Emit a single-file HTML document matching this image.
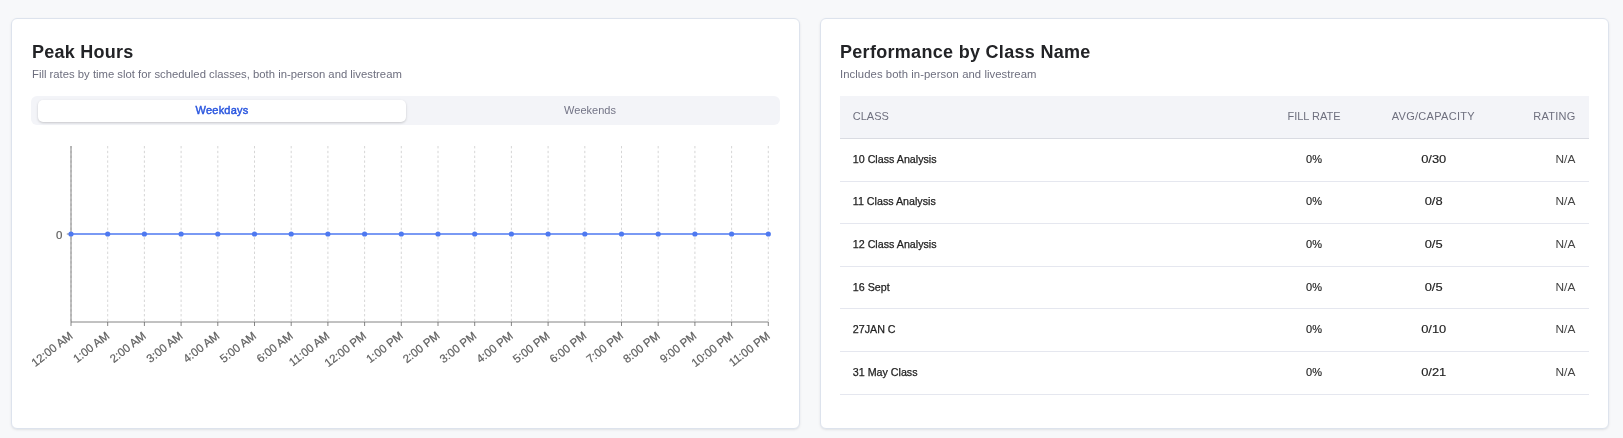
<!DOCTYPE html>
<html><head><meta charset="utf-8"><style>
*{margin:0;padding:0;box-sizing:border-box}
html,body{width:1623px;height:438px;overflow:hidden;background:#f7f8fa;font-family:"Liberation Sans",Arial,sans-serif}
#root{position:absolute;left:0;top:0;width:1623px;height:438px;will-change:transform}
.card{position:absolute;top:18px;width:789px;height:411px;background:#fff;border:1px solid #dde3ed;border-radius:6px;box-shadow:0 1px 3px rgba(16,24,40,0.07),0 1px 2px rgba(16,24,40,0.04)}
.title{position:absolute;font-weight:bold;font-size:18px;color:#222326;white-space:nowrap;line-height:1;letter-spacing:0.25px}
.sub{position:absolute;font-size:11.3px;color:#6d6e7e;white-space:nowrap;line-height:1}
.track{position:absolute;left:31px;top:96px;width:749px;height:29px;background:#f3f4f8;border-radius:6px}
.pill{position:absolute;left:38px;top:100px;width:368px;height:22px;background:#fff;border-radius:5px;box-shadow:0 1px 3px rgba(0,0,0,0.12),0 1px 2px rgba(0,0,0,0.07)}
.seg{position:absolute;top:99px;height:23px;line-height:23px;text-align:center;font-size:11px;width:368px}
.s1{left:38px;color:#2a56df;-webkit-text-stroke:0.45px #2a56df;letter-spacing:0.2px}
.s2{left:406px;color:#737486}
.thead{position:absolute;left:840px;top:96px;width:749px;height:43px;background:#f3f4f8;border-bottom:1px solid #d9dbe2}
.th{position:absolute;top:0;line-height:41px;font-size:11px;color:#6e6f7e;white-space:nowrap}
.h1{left:12.8px}
.h2{left:474px;width:0;display:flex;justify-content:center}
.h3{letter-spacing:0.3px;left:593.3px;width:0;display:flex;justify-content:center}
.h4{right:13.3px;letter-spacing:0.3px}
.row{position:absolute;left:840px;width:749px;height:42.6px;font-size:11px;color:#222}
.sep{position:absolute;left:840px;width:749px;height:1px;background:#e5e7ef}
.row span{position:absolute;top:0;line-height:42px;white-space:nowrap}
.c1{left:12.8px;font-size:10.7px;-webkit-text-stroke:0.25px #222}
.c2{-webkit-text-stroke:0.15px #222;left:474px;width:0;display:flex;justify-content:center}
.c3{-webkit-text-stroke:0.15px #222;left:593.3px;width:0;display:flex;justify-content:center}
.c3 b{font-weight:normal;display:inline-block;transform:scaleX(1.17)}
.c4{right:13.6px;color:#444;transform:scaleX(1.08);transform-origin:100% 50%}
svg{position:absolute;left:0;top:0}

</style></head><body><div id="root">
<div class="card" style="left:11px"></div>
<div class="card" style="left:820px"></div>
<div class="title" style="left:32px;top:43px">Peak Hours</div>
<div class="sub" style="left:32px;top:69px">Fill rates by time slot for scheduled classes, both in-person and livestream</div>
<div class="track"></div>
<div class="pill"></div>
<div class="seg s1">Weekdays</div>
<div class="seg s2">Weekends</div>
<svg width="1623" height="438" font-family="Liberation Sans, Arial, Helvetica, sans-serif">
<line x1="71.00" y1="146.0" x2="71.00" y2="322.0" stroke="#ccc" stroke-width="0.8" stroke-dasharray="2.4 2.4"/>
<line x1="107.70" y1="146.0" x2="107.70" y2="322.0" stroke="#ccc" stroke-width="0.8" stroke-dasharray="2.4 2.4"/>
<line x1="144.40" y1="146.0" x2="144.40" y2="322.0" stroke="#ccc" stroke-width="0.8" stroke-dasharray="2.4 2.4"/>
<line x1="181.10" y1="146.0" x2="181.10" y2="322.0" stroke="#ccc" stroke-width="0.8" stroke-dasharray="2.4 2.4"/>
<line x1="217.80" y1="146.0" x2="217.80" y2="322.0" stroke="#ccc" stroke-width="0.8" stroke-dasharray="2.4 2.4"/>
<line x1="254.50" y1="146.0" x2="254.50" y2="322.0" stroke="#ccc" stroke-width="0.8" stroke-dasharray="2.4 2.4"/>
<line x1="291.20" y1="146.0" x2="291.20" y2="322.0" stroke="#ccc" stroke-width="0.8" stroke-dasharray="2.4 2.4"/>
<line x1="327.90" y1="146.0" x2="327.90" y2="322.0" stroke="#ccc" stroke-width="0.8" stroke-dasharray="2.4 2.4"/>
<line x1="364.60" y1="146.0" x2="364.60" y2="322.0" stroke="#ccc" stroke-width="0.8" stroke-dasharray="2.4 2.4"/>
<line x1="401.30" y1="146.0" x2="401.30" y2="322.0" stroke="#ccc" stroke-width="0.8" stroke-dasharray="2.4 2.4"/>
<line x1="438.00" y1="146.0" x2="438.00" y2="322.0" stroke="#ccc" stroke-width="0.8" stroke-dasharray="2.4 2.4"/>
<line x1="474.70" y1="146.0" x2="474.70" y2="322.0" stroke="#ccc" stroke-width="0.8" stroke-dasharray="2.4 2.4"/>
<line x1="511.40" y1="146.0" x2="511.40" y2="322.0" stroke="#ccc" stroke-width="0.8" stroke-dasharray="2.4 2.4"/>
<line x1="548.10" y1="146.0" x2="548.10" y2="322.0" stroke="#ccc" stroke-width="0.8" stroke-dasharray="2.4 2.4"/>
<line x1="584.80" y1="146.0" x2="584.80" y2="322.0" stroke="#ccc" stroke-width="0.8" stroke-dasharray="2.4 2.4"/>
<line x1="621.50" y1="146.0" x2="621.50" y2="322.0" stroke="#ccc" stroke-width="0.8" stroke-dasharray="2.4 2.4"/>
<line x1="658.20" y1="146.0" x2="658.20" y2="322.0" stroke="#ccc" stroke-width="0.8" stroke-dasharray="2.4 2.4"/>
<line x1="694.90" y1="146.0" x2="694.90" y2="322.0" stroke="#ccc" stroke-width="0.8" stroke-dasharray="2.4 2.4"/>
<line x1="731.60" y1="146.0" x2="731.60" y2="322.0" stroke="#ccc" stroke-width="0.8" stroke-dasharray="2.4 2.4"/>
<line x1="768.30" y1="146.0" x2="768.30" y2="322.0" stroke="#ccc" stroke-width="0.8" stroke-dasharray="2.4 2.4"/>
<line x1="71.0" y1="146.0" x2="71.0" y2="322.0" stroke="#666" stroke-width="0.8"/>
<line x1="71.0" y1="322.0" x2="768.3" y2="322.0" stroke="#666" stroke-width="0.8"/>
<line x1="66.8" y1="234.0" x2="71.0" y2="234.0" stroke="#666" stroke-width="0.8"/>
<text x="62.3" y="238.9" text-anchor="end" font-size="11.5" fill="#606060" stroke="#606060" stroke-width="0.2">0</text>
<line x1="71.00" y1="322.0" x2="71.00" y2="326.0" stroke="#666" stroke-width="0.8"/>
<text transform="rotate(-38 68.50 330.8)" x="68.50" y="330.8" dy="0.71em" text-anchor="end" font-size="11.5" fill="#606060" stroke="#606060" stroke-width="0.2">12:00 AM</text>
<line x1="107.70" y1="322.0" x2="107.70" y2="326.0" stroke="#666" stroke-width="0.8"/>
<text transform="rotate(-38 105.20 330.8)" x="105.20" y="330.8" dy="0.71em" text-anchor="end" font-size="11.5" fill="#606060" stroke="#606060" stroke-width="0.2">1:00 AM</text>
<line x1="144.40" y1="322.0" x2="144.40" y2="326.0" stroke="#666" stroke-width="0.8"/>
<text transform="rotate(-38 141.90 330.8)" x="141.90" y="330.8" dy="0.71em" text-anchor="end" font-size="11.5" fill="#606060" stroke="#606060" stroke-width="0.2">2:00 AM</text>
<line x1="181.10" y1="322.0" x2="181.10" y2="326.0" stroke="#666" stroke-width="0.8"/>
<text transform="rotate(-38 178.60 330.8)" x="178.60" y="330.8" dy="0.71em" text-anchor="end" font-size="11.5" fill="#606060" stroke="#606060" stroke-width="0.2">3:00 AM</text>
<line x1="217.80" y1="322.0" x2="217.80" y2="326.0" stroke="#666" stroke-width="0.8"/>
<text transform="rotate(-38 215.30 330.8)" x="215.30" y="330.8" dy="0.71em" text-anchor="end" font-size="11.5" fill="#606060" stroke="#606060" stroke-width="0.2">4:00 AM</text>
<line x1="254.50" y1="322.0" x2="254.50" y2="326.0" stroke="#666" stroke-width="0.8"/>
<text transform="rotate(-38 252.00 330.8)" x="252.00" y="330.8" dy="0.71em" text-anchor="end" font-size="11.5" fill="#606060" stroke="#606060" stroke-width="0.2">5:00 AM</text>
<line x1="291.20" y1="322.0" x2="291.20" y2="326.0" stroke="#666" stroke-width="0.8"/>
<text transform="rotate(-38 288.70 330.8)" x="288.70" y="330.8" dy="0.71em" text-anchor="end" font-size="11.5" fill="#606060" stroke="#606060" stroke-width="0.2">6:00 AM</text>
<line x1="327.90" y1="322.0" x2="327.90" y2="326.0" stroke="#666" stroke-width="0.8"/>
<text transform="rotate(-38 325.40 330.8)" x="325.40" y="330.8" dy="0.71em" text-anchor="end" font-size="11.5" fill="#606060" stroke="#606060" stroke-width="0.2">11:00 AM</text>
<line x1="364.60" y1="322.0" x2="364.60" y2="326.0" stroke="#666" stroke-width="0.8"/>
<text transform="rotate(-38 362.10 330.8)" x="362.10" y="330.8" dy="0.71em" text-anchor="end" font-size="11.5" fill="#606060" stroke="#606060" stroke-width="0.2">12:00 PM</text>
<line x1="401.30" y1="322.0" x2="401.30" y2="326.0" stroke="#666" stroke-width="0.8"/>
<text transform="rotate(-38 398.80 330.8)" x="398.80" y="330.8" dy="0.71em" text-anchor="end" font-size="11.5" fill="#606060" stroke="#606060" stroke-width="0.2">1:00 PM</text>
<line x1="438.00" y1="322.0" x2="438.00" y2="326.0" stroke="#666" stroke-width="0.8"/>
<text transform="rotate(-38 435.50 330.8)" x="435.50" y="330.8" dy="0.71em" text-anchor="end" font-size="11.5" fill="#606060" stroke="#606060" stroke-width="0.2">2:00 PM</text>
<line x1="474.70" y1="322.0" x2="474.70" y2="326.0" stroke="#666" stroke-width="0.8"/>
<text transform="rotate(-38 472.20 330.8)" x="472.20" y="330.8" dy="0.71em" text-anchor="end" font-size="11.5" fill="#606060" stroke="#606060" stroke-width="0.2">3:00 PM</text>
<line x1="511.40" y1="322.0" x2="511.40" y2="326.0" stroke="#666" stroke-width="0.8"/>
<text transform="rotate(-38 508.90 330.8)" x="508.90" y="330.8" dy="0.71em" text-anchor="end" font-size="11.5" fill="#606060" stroke="#606060" stroke-width="0.2">4:00 PM</text>
<line x1="548.10" y1="322.0" x2="548.10" y2="326.0" stroke="#666" stroke-width="0.8"/>
<text transform="rotate(-38 545.60 330.8)" x="545.60" y="330.8" dy="0.71em" text-anchor="end" font-size="11.5" fill="#606060" stroke="#606060" stroke-width="0.2">5:00 PM</text>
<line x1="584.80" y1="322.0" x2="584.80" y2="326.0" stroke="#666" stroke-width="0.8"/>
<text transform="rotate(-38 582.30 330.8)" x="582.30" y="330.8" dy="0.71em" text-anchor="end" font-size="11.5" fill="#606060" stroke="#606060" stroke-width="0.2">6:00 PM</text>
<line x1="621.50" y1="322.0" x2="621.50" y2="326.0" stroke="#666" stroke-width="0.8"/>
<text transform="rotate(-38 619.00 330.8)" x="619.00" y="330.8" dy="0.71em" text-anchor="end" font-size="11.5" fill="#606060" stroke="#606060" stroke-width="0.2">7:00 PM</text>
<line x1="658.20" y1="322.0" x2="658.20" y2="326.0" stroke="#666" stroke-width="0.8"/>
<text transform="rotate(-38 655.70 330.8)" x="655.70" y="330.8" dy="0.71em" text-anchor="end" font-size="11.5" fill="#606060" stroke="#606060" stroke-width="0.2">8:00 PM</text>
<line x1="694.90" y1="322.0" x2="694.90" y2="326.0" stroke="#666" stroke-width="0.8"/>
<text transform="rotate(-38 692.40 330.8)" x="692.40" y="330.8" dy="0.71em" text-anchor="end" font-size="11.5" fill="#606060" stroke="#606060" stroke-width="0.2">9:00 PM</text>
<line x1="731.60" y1="322.0" x2="731.60" y2="326.0" stroke="#666" stroke-width="0.8"/>
<text transform="rotate(-38 729.10 330.8)" x="729.10" y="330.8" dy="0.71em" text-anchor="end" font-size="11.5" fill="#606060" stroke="#606060" stroke-width="0.2">10:00 PM</text>
<line x1="768.30" y1="322.0" x2="768.30" y2="326.0" stroke="#666" stroke-width="0.8"/>
<text transform="rotate(-38 765.80 330.8)" x="765.80" y="330.8" dy="0.71em" text-anchor="end" font-size="11.5" fill="#606060" stroke="#606060" stroke-width="0.2">11:00 PM</text>
<line x1="71.0" y1="234.0" x2="768.3" y2="234.0" stroke="#4e79f0" stroke-width="1.6"/>
<circle cx="71.00" cy="234.0" r="2.6" fill="#4e79f0"/>
<circle cx="107.70" cy="234.0" r="2.6" fill="#4e79f0"/>
<circle cx="144.40" cy="234.0" r="2.6" fill="#4e79f0"/>
<circle cx="181.10" cy="234.0" r="2.6" fill="#4e79f0"/>
<circle cx="217.80" cy="234.0" r="2.6" fill="#4e79f0"/>
<circle cx="254.50" cy="234.0" r="2.6" fill="#4e79f0"/>
<circle cx="291.20" cy="234.0" r="2.6" fill="#4e79f0"/>
<circle cx="327.90" cy="234.0" r="2.6" fill="#4e79f0"/>
<circle cx="364.60" cy="234.0" r="2.6" fill="#4e79f0"/>
<circle cx="401.30" cy="234.0" r="2.6" fill="#4e79f0"/>
<circle cx="438.00" cy="234.0" r="2.6" fill="#4e79f0"/>
<circle cx="474.70" cy="234.0" r="2.6" fill="#4e79f0"/>
<circle cx="511.40" cy="234.0" r="2.6" fill="#4e79f0"/>
<circle cx="548.10" cy="234.0" r="2.6" fill="#4e79f0"/>
<circle cx="584.80" cy="234.0" r="2.6" fill="#4e79f0"/>
<circle cx="621.50" cy="234.0" r="2.6" fill="#4e79f0"/>
<circle cx="658.20" cy="234.0" r="2.6" fill="#4e79f0"/>
<circle cx="694.90" cy="234.0" r="2.6" fill="#4e79f0"/>
<circle cx="731.60" cy="234.0" r="2.6" fill="#4e79f0"/>
<circle cx="768.30" cy="234.0" r="2.6" fill="#4e79f0"/>
</svg>
<div class="title" style="left:840px;top:43px;letter-spacing:0.3px">Performance by Class Name</div>
<div class="sub" style="left:840px;top:69px;letter-spacing:0.065px">Includes both in-person and livestream</div>
<div class="thead">
<span class="th h1">CLASS</span>
<span class="th h2">FILL RATE</span>
<span class="th h3">AVG/CAPACITY</span>
<span class="th h4">RATING</span>
</div>
<div class="sep" style="top:181px"></div><div class="row" style="top:138.40px"><span class="c1">10 Class Analysis</span><span class="c2">0%</span><span class="c3"><b>0/30</b></span><span class="c4">N/A</span></div>
<div class="sep" style="top:223px"></div><div class="row" style="top:180.40px"><span class="c1">11 Class Analysis</span><span class="c2">0%</span><span class="c3"><b>0/8</b></span><span class="c4">N/A</span></div>
<div class="sep" style="top:266px"></div><div class="row" style="top:223.40px"><span class="c1">12 Class Analysis</span><span class="c2">0%</span><span class="c3"><b>0/5</b></span><span class="c4">N/A</span></div>
<div class="sep" style="top:308px"></div><div class="row" style="top:266.40px"><span class="c1">16 Sept</span><span class="c2">0%</span><span class="c3"><b>0/5</b></span><span class="c4">N/A</span></div>
<div class="sep" style="top:351px"></div><div class="row" style="top:308.40px"><span class="c1">27JAN C</span><span class="c2">0%</span><span class="c3"><b>0/10</b></span><span class="c4">N/A</span></div>
<div class="sep" style="top:394px"></div><div class="row" style="top:351.40px"><span class="c1">31 May Class</span><span class="c2">0%</span><span class="c3"><b>0/21</b></span><span class="c4">N/A</span></div>
</div>
</body></html>
